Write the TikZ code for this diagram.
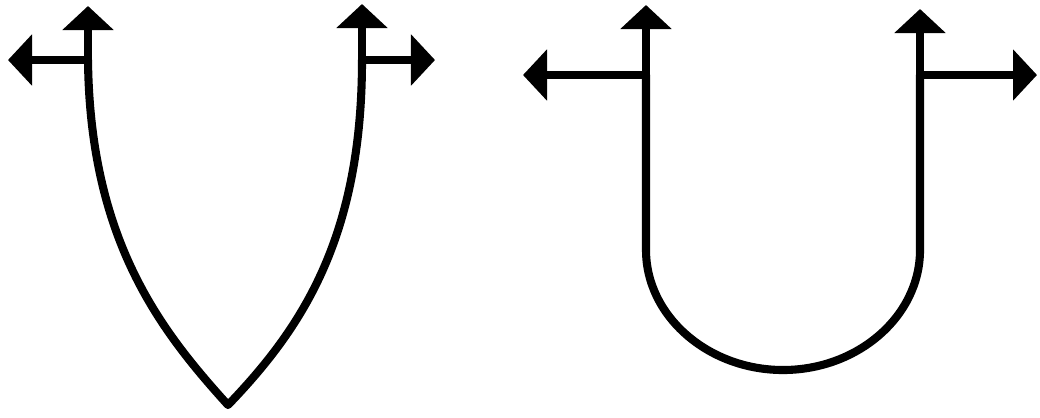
\documentclass[tikz,border=0pt]{standalone}
\usetikzlibrary{arrows.meta}
\tikzset{
  stroke/.style={line width=2.3pt, line cap=round, line join=round},
  arr/.style={stroke, -{Triangle[length=2.4mm, width=5mm]}},
}
\begin{document}
\begin{tikzpicture}[x=0.01cm, y=-0.01cm]
  \useasboundingbox (0,0) rectangle (1040,417);
  % pointed profile
  \coordinate (vl) at (88,60);
  \coordinate (vr) at (362,60);
  \coordinate (vb) at (228,405);
  \coordinate (vlup) at (88,6);
  \coordinate (vrup) at (362,4);
  \coordinate (vlout) at (8,60);
  \coordinate (vrout) at (435,60);
  \draw[stroke] (vl) .. controls (90,240) and (160,330) .. (vb)
                     .. controls (300,330) and (362,240) .. (vr);
  \draw[arr] (vl) -- (vlup);
  \draw[arr] (vr) -- (vrup);
  \draw[arr] (vl) -- (vlout);
  \draw[arr] (vr) -- (vrout);
  % rounded profile
  \coordinate (ul) at (646,75);
  \coordinate (ur) at (920,75);
  \coordinate (ulup) at (646,5);
  \coordinate (urup) at (920,9);
  \coordinate (ulout) at (523,75);
  \coordinate (urout) at (1037,75);
  \draw[stroke] (ul) -- (646,250) .. controls (646,316) and (708,370) .. (783,370)
                     .. controls (858,370) and (920,316) .. (920,250) -- (ur);
  \draw[arr] (ul) -- (ulup);
  \draw[arr] (ur) -- (urup);
  \draw[arr] (ul) -- (ulout);
  \draw[arr] (ur) -- (urout);
\end{tikzpicture}
\end{document}
